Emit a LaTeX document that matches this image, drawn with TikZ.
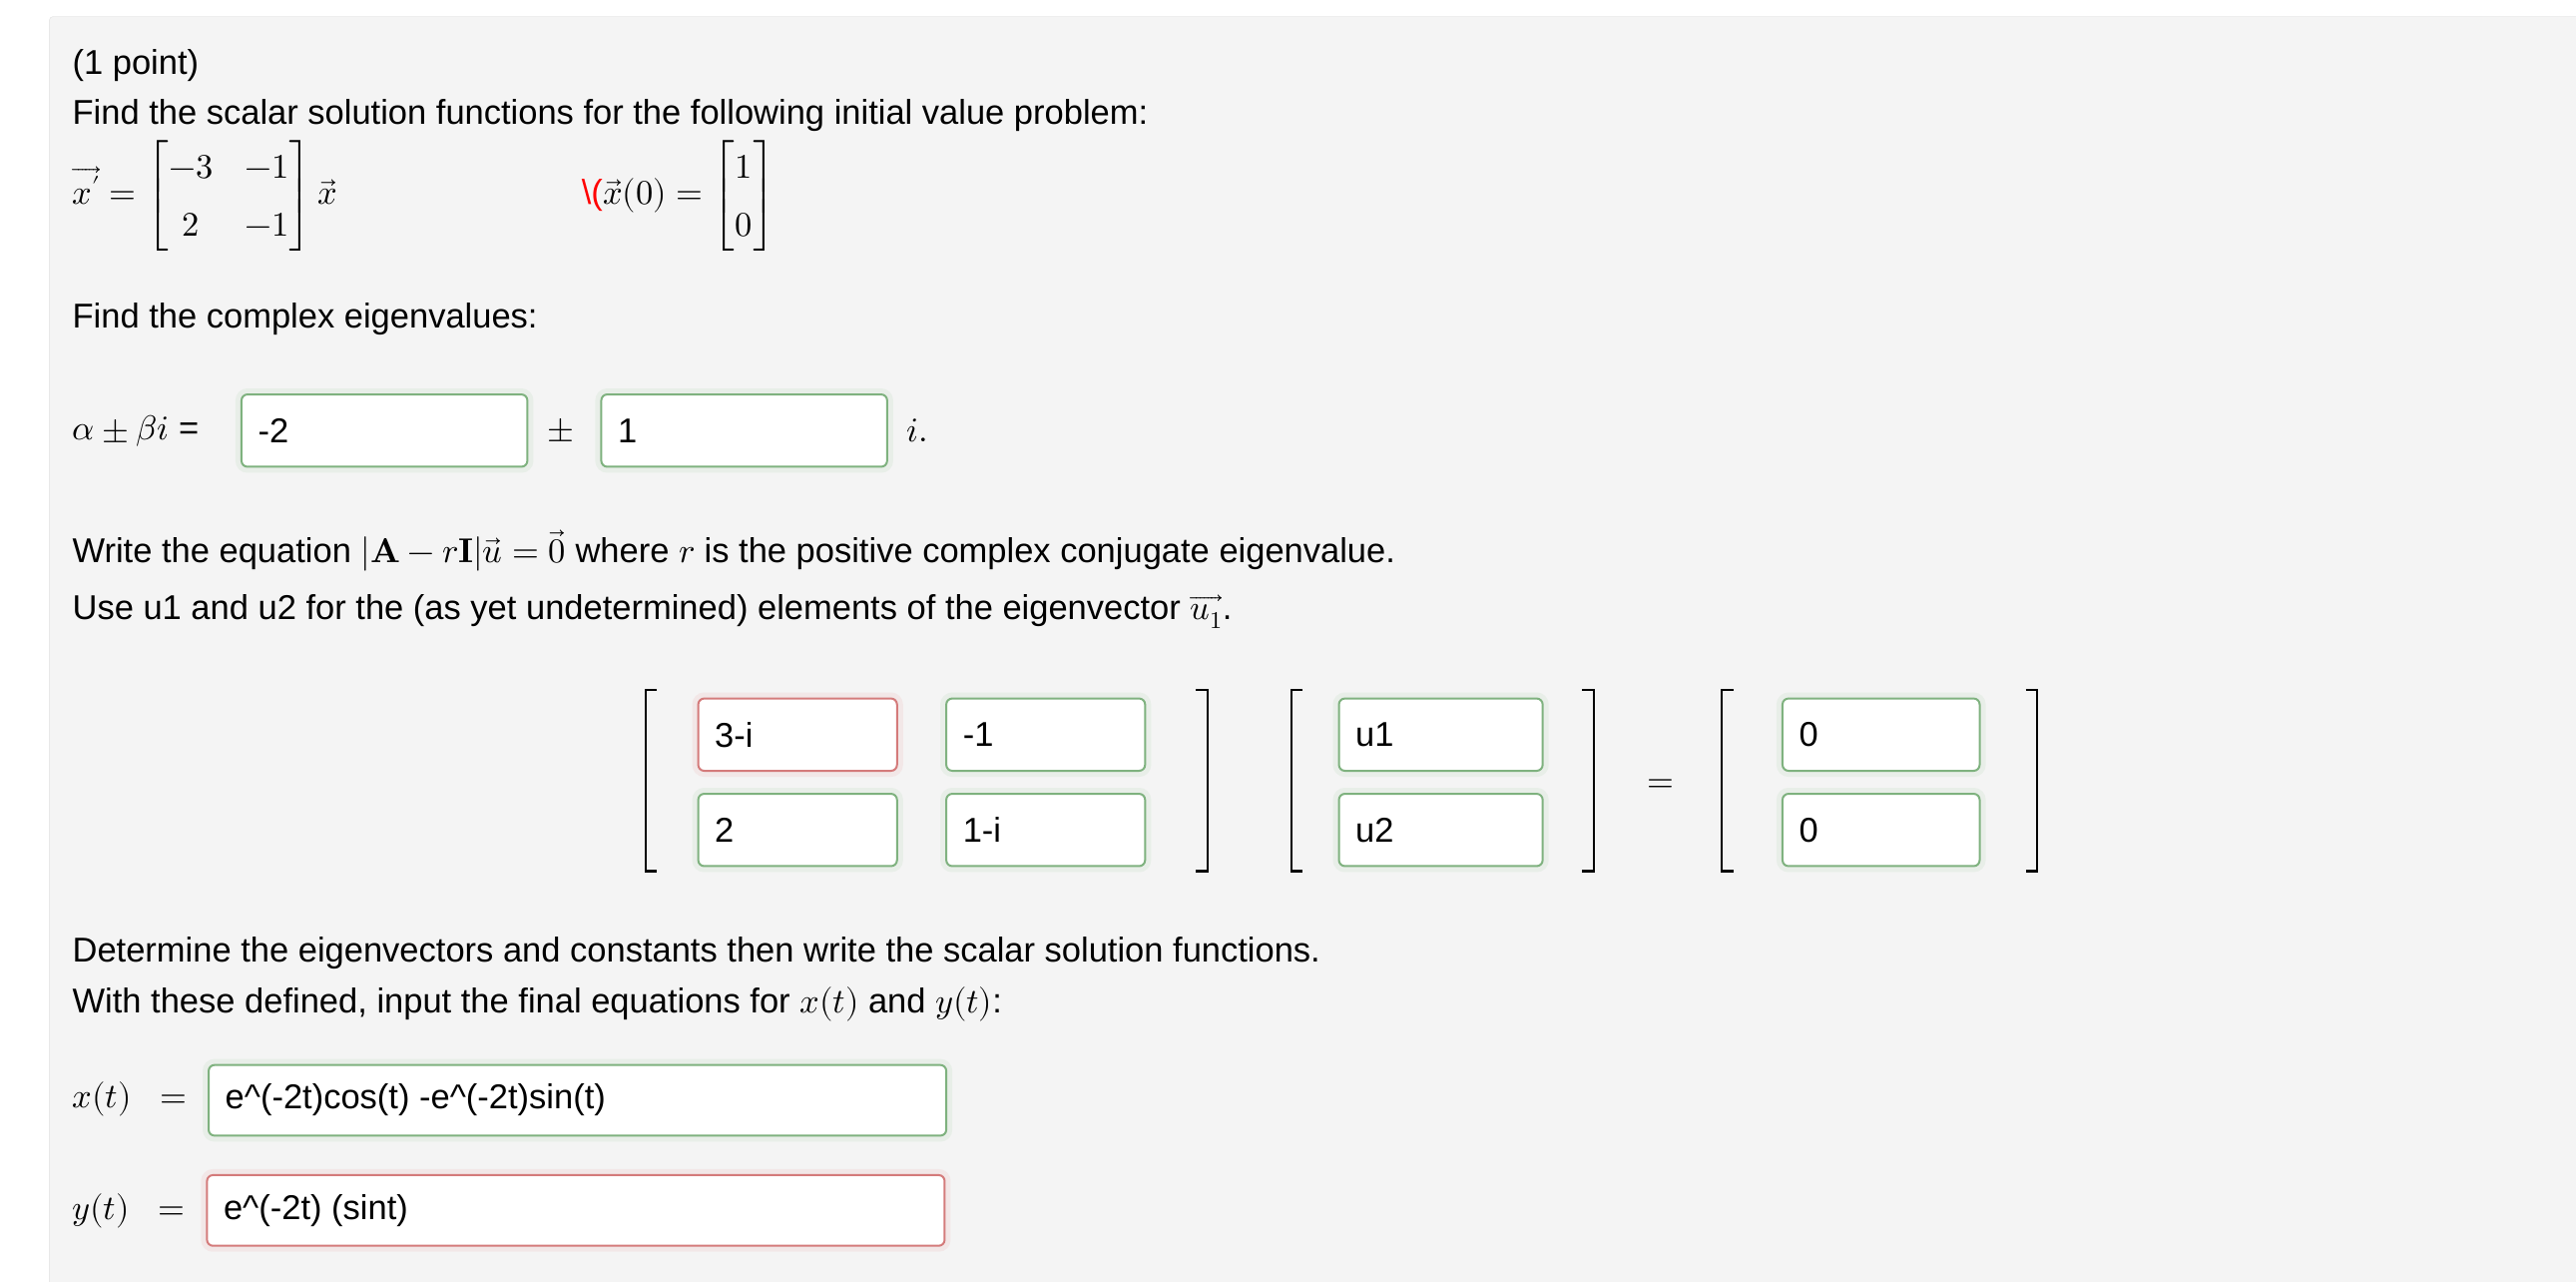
\documentclass[tikz,border=0pt]{standalone}
\usepackage{amsmath}
\usepackage{fontspec}
\usepackage{unicode-math}
\setmainfont{Liberation Sans}
\setmathfont{Latin Modern Math}
\usetikzlibrary{calc}
\definecolor{okg}{HTML}{7FB27F}
\definecolor{badr}{HTML}{D47B7B}
\definecolor{panel}{HTML}{F4F4F4}
\tikzset{
  txt/.style={anchor=west,inner sep=0pt,font=\fontsize{34.5}{40}\selectfont},
  ansbox/.style={draw=#1,line width=2pt,fill=white,rounded corners=6pt,
    preaction={draw=#1!35,line width=12pt,opacity=0.35}},
  ansin/.style={anchor=west,inner sep=0pt,font=\fontsize{34.5}{40}\selectfont},
  brk/.style={line width=2.2pt}
}
\newcommand{\abox}[6]{% name, x1,y1,x2,y2,color
  \draw[ansbox=#6] (#2,#3) rectangle (#4,#5);
  \coordinate (#1) at (#2,{(#3+#5)/2});}
\newcommand{\lbrk}[3]{\draw[brk] (#1+7,#2) -- (#1,#2) -- (#1,#3) -- (#1+7,#3);}
\newcommand{\rbrk}[3]{\draw[brk] (#1-7,#2) -- (#1,#2) -- (#1,#3) -- (#1-7,#3);}
\begin{document}
\begin{tikzpicture}[x=1.646pt,y=-1.646pt]
\useasboundingbox (0,0) rectangle (1568,779.5);
\fill[white] (0,0) rectangle (1568,779.5);
\draw[fill=panel,draw=black!12,rounded corners=4pt] (30,10) rectangle (1580,790);
\renewcommand{\arraystretch}{1.45}
\setlength{\arraycolsep}{16pt}
\node[txt] (pt) at (44,40) {(1 point)};
\node[txt] (f1) at (44,70) {Find the scalar solution functions for the following initial value problem:};
\node[txt] (eq1) at (44,119) {$\overrightarrow{x'} = \begin{bmatrix}-3 & -1\\ 2 & -1\end{bmatrix}\vec{x}$};
\node[txt] (eq2) at (354,119) {{\color{red}\textbackslash(}$\vec{x}(0) = {\setlength{\arraycolsep}{6pt}\begin{bmatrix}1\\ 0\end{bmatrix}}$};
\node[txt] (f2) at (44,194) {Find the complex eigenvalues:};
\node[txt] (ab) at (44,262) {$\alpha\pm\beta i$ =};
\abox{b1}{147}{240}{321}{284}{okg}
\node[ansin] at ($(b1)+(10,0)$) {-2};
\node[txt] (pm) at (333,262) {$\pm$};
\abox{b2}{366}{240}{540}{284}{okg}
\node[ansin] at ($(b2)+(10,0)$) {1};
\node[txt] (ii) at (552,262) {$i.$};
\node[txt] (w1) at (44,335) {Write the equation $|\symbf{A}-r\symbf{I}|\vec{u}=\vec{0}$ where $r$ is the positive complex conjugate eigenvalue.};
\node[txt] (w2) at (44,372) {Use u1 and u2 for the (as yet undetermined) elements of the eigenvector $\overrightarrow{u_1}$.};
\lbrk{393}{420}{530}
\rbrk{735}{420}{530}
\lbrk{786}{420}{530}
\rbrk{970}{420}{530}
\lbrk{1048}{420}{530}
\rbrk{1240}{420}{530}
\abox{m11}{425}{425}{546}{469}{badr}
\node[ansin] at ($(m11)+(10,0)$) {3-i};
\abox{m12}{576}{425}{697}{469}{okg}
\node[ansin] at ($(m12)+(10,0)$) {-1};
\abox{m21}{425}{483}{546}{527}{okg}
\node[ansin] at ($(m21)+(10,0)$) {2};
\abox{m22}{576}{483}{697}{527}{okg}
\node[ansin] at ($(m22)+(10,0)$) {1-i};
\abox{u1}{815}{425}{939}{469}{okg}
\node[ansin] at ($(u1)+(10,0)$) {u1};
\abox{u2}{815}{483}{939}{527}{okg}
\node[ansin] at ($(u2)+(10,0)$) {u2};
\node[txt,anchor=center] (eqs) at (1011,478) {$=$};
\abox{z1}{1085}{425}{1205}{469}{okg}
\node[ansin] at ($(z1)+(10,0)$) {0};
\abox{z2}{1085}{483}{1205}{527}{okg}
\node[ansin] at ($(z2)+(10,0)$) {0};
\node[txt] (d1) at (44,580) {Determine the eigenvectors and constants then write the scalar solution functions.};
\node[txt] (d2) at (44,611) {With these defined, input the final equations for $x(t)$ and $y(t)$:};
\node[txt] (xt) at (44,669) {$x(t)\;\;=$};
\abox{bx}{127}{648}{576}{691}{okg}
\node[ansin] at ($(bx)+(10,0)$) {e\^{}(-2t)cos(t) -e\^{}(-2t)sin(t)};
\node[txt] (yt) at (44,737) {$y(t)\;\;=$};
\abox{by}{126}{715}{575}{758}{badr}
\node[ansin] at ($(by)+(10,0)$) {e\^{}(-2t) (sint)};
\end{tikzpicture}
\end{document}
